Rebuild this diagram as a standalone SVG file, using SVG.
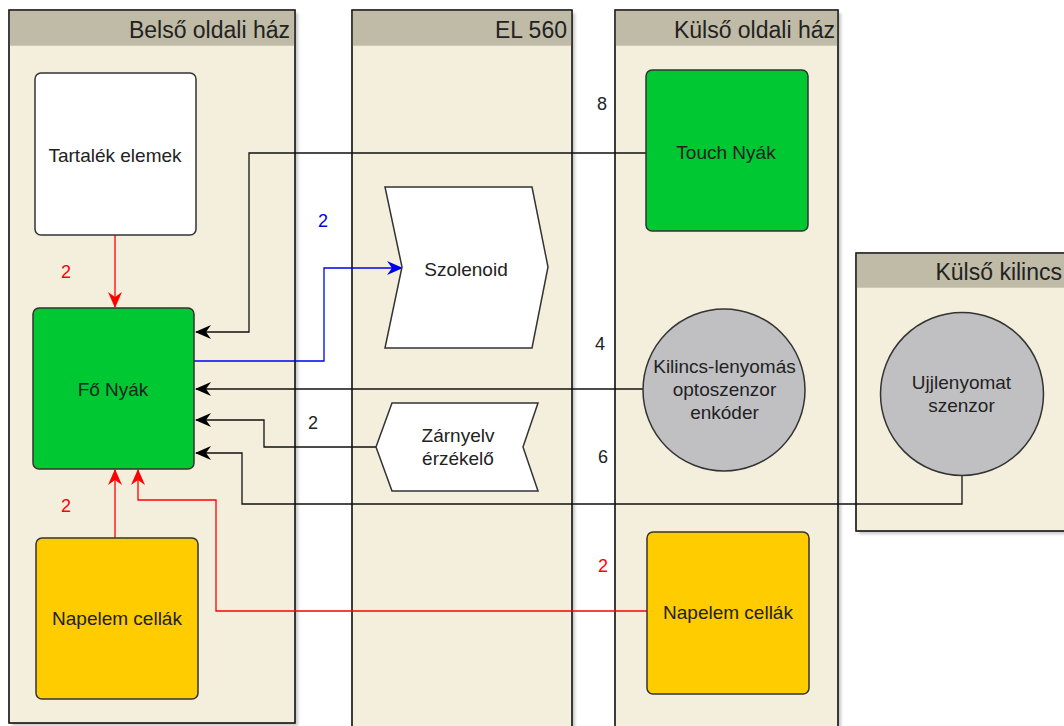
<svg xmlns="http://www.w3.org/2000/svg" width="1064" height="726" viewBox="0 0 1064 726">
<defs>
<filter id="sh" x="-5%" y="-5%" width="110%" height="110%"><feGaussianBlur stdDeviation="1.5"/></filter>
<marker id="ak" viewBox="0 0 16 14" refX="15" refY="7" markerWidth="16" markerHeight="14" markerUnits="userSpaceOnUse" orient="auto"><path d="M0,0 L16,7 L0,14 L5,7 Z" fill="#000"/></marker>
<marker id="ar" viewBox="0 0 16 14" refX="15" refY="7" markerWidth="16" markerHeight="14" markerUnits="userSpaceOnUse" orient="auto"><path d="M0,0 L16,7 L0,14 L5,7 Z" fill="#ff0000"/></marker>
<marker id="ab" viewBox="0 0 16 14" refX="15" refY="7" markerWidth="16" markerHeight="14" markerUnits="userSpaceOnUse" orient="auto"><path d="M0,0 L16,7 L0,14 L5,7 Z" fill="#0000ee"/></marker>
</defs>
<style>
.pool{fill:#f4efdc;stroke:#222;stroke-width:1.3}
.hdr{fill:#bfbba6}
.shd{fill:#000;opacity:0.22;filter:url(#sh)}
.ht{font-family:"Liberation Sans",Arial,sans-serif;font-size:23px;fill:#222;text-anchor:end}
.nt{font-family:"Liberation Sans",Arial,sans-serif;font-size:19px;fill:#222;text-anchor:middle}
.lt{font-family:"Liberation Sans",Arial,sans-serif;font-size:18px;text-anchor:middle}
.node{stroke:#333;stroke-width:1.5}
.ck{fill:none;stroke:#111;stroke-width:1.3}
.cr{fill:none;stroke:#ff0000;stroke-width:1.3}
.cb{fill:none;stroke:#0000ee;stroke-width:1.3}
</style>
<rect width="1064" height="726" fill="#fff"/>
<g id="pools">
<g id="pool-belso">
<rect class="shd" x="12" y="13" width="286" height="713"/>
<rect class="pool" x="9" y="10" width="286" height="713"/>
<rect class="hdr" x="9.7" y="10.7" width="284.6" height="35"/>
<rect x="9" y="10" width="286" height="713" fill="none" stroke="#222" stroke-width="1.3"/>
<text class="ht" x="290" y="38">Belső oldali ház</text>
</g>
<g id="pool-el560">
<rect class="shd" x="355" y="13" width="220" height="720"/>
<rect class="pool" x="352" y="10" width="220" height="725"/>
<rect class="hdr" x="352.7" y="10.7" width="218.6" height="35"/>
<rect x="352" y="10" width="220" height="725" fill="none" stroke="#222" stroke-width="1.3"/>
<text class="ht" x="567" y="38">EL 560</text>
</g>
<g id="pool-kulso">
<rect class="shd" x="618" y="13" width="223" height="720"/>
<rect class="pool" x="615" y="10" width="223" height="725"/>
<rect class="hdr" x="615.7" y="10.7" width="221.6" height="35"/>
<rect x="615" y="10" width="223" height="725" fill="none" stroke="#222" stroke-width="1.3"/>
<text class="ht" x="835" y="38">Külső oldali ház</text>
</g>
<g id="pool-kilincs">
<rect class="shd" x="859" y="256" width="220" height="278"/>
<rect class="pool" x="856" y="253" width="220" height="278"/>
<rect class="hdr" x="856.7" y="253.7" width="218.6" height="34"/>
<rect x="856" y="253" width="220" height="278" fill="none" stroke="#222" stroke-width="1.3"/>
<text class="ht" x="1062" y="280">Külső kilincs</text>
</g>
</g>
<g id="connectors">
<path class="ck" d="M646,153 L249,153 L249,332 L196,332" marker-end="url(#ak)"/>
<path class="cb" d="M194,361 L324,361 L324,268 L402,268" marker-end="url(#ab)"/>
<path class="ck" d="M643,389 L196,389" marker-end="url(#ak)"/>
<path class="ck" d="M376,447 L264,447 L264,420 L196,420" marker-end="url(#ak)"/>
<path class="ck" d="M962,475.5 L962,504 L242,504 L242,453 L196,453" marker-end="url(#ak)"/>
<path class="cr" d="M115,235 L115,307" marker-end="url(#ar)"/>
<path class="cr" d="M115,538 L115,470" marker-end="url(#ar)"/>
<path class="cr" d="M647,611 L216,611 L216,500 L138,500 L138,470" marker-end="url(#ar)"/>
<text class="lt" x="602" y="110" fill="#222">8</text>
<text class="lt" x="323" y="227" fill="#0000ee">2</text>
<text class="lt" x="66" y="278" fill="#ff0000">2</text>
<text class="lt" x="600" y="350" fill="#222">4</text>
<text class="lt" x="313" y="429" fill="#222">2</text>
<text class="lt" x="603" y="463" fill="#222">6</text>
<text class="lt" x="66" y="512" fill="#ff0000">2</text>
<text class="lt" x="603" y="572" fill="#ff0000">2</text>
</g>
<g id="tartalek">
<rect class="node" x="35" y="73" width="161" height="162" rx="6" fill="#fff"/>
<text class="nt" x="115" y="162">Tartalék elemek</text>
</g>
<g id="fo-nyak">
<rect class="node" x="33" y="308" width="161" height="161" rx="6" fill="#00c832"/>
<text class="nt" x="113" y="396">Fő Nyák</text>
</g>
<g id="napelem-belso">
<rect class="node" x="36" y="538" width="162" height="161" rx="6" fill="#ffcc00"/>
<text class="nt" x="117" y="625">Napelem cellák</text>
</g>
<g id="szolenoid">
<polygon class="node" points="385,187 532,187 548,267 532,348 385,348 402,267" fill="#fff"/>
<text class="nt" x="466" y="276">Szolenoid</text>
</g>
<g id="zarnyelv">
<polygon class="node" points="392,403 538,403 523,447 538,491 392,491 376,447" fill="#fff"/>
<text class="nt" x="458" y="442">Zárnyelv</text>
<text class="nt" x="458" y="465">érzékelő</text>
</g>
<g id="touch-nyak">
<rect class="node" x="646" y="70" width="162" height="161" rx="6" fill="#00c832"/>
<text class="nt" x="726" y="159">Touch Nyák</text>
</g>
<g id="kilincs-szenzor">
<circle class="node" cx="724" cy="390" r="81" fill="#c0c0c2"/>
<text class="nt" x="724.5" y="373">Kilincs-lenyomás</text>
<text class="nt" x="724.5" y="396">optoszenzor</text>
<text class="nt" x="724.5" y="419">enkóder</text>
</g>
<g id="napelem-kulso">
<rect class="node" x="647" y="532" width="162" height="162" rx="6" fill="#ffcc00"/>
<text class="nt" x="728" y="619">Napelem cellák</text>
</g>
<g id="ujjlenyomat">
<circle class="node" cx="962" cy="394" r="81.5" fill="#c0c0c2"/>
<text class="nt" x="961.5" y="389">Ujjlenyomat</text>
<text class="nt" x="961.5" y="412">szenzor</text>
</g>
</svg>
